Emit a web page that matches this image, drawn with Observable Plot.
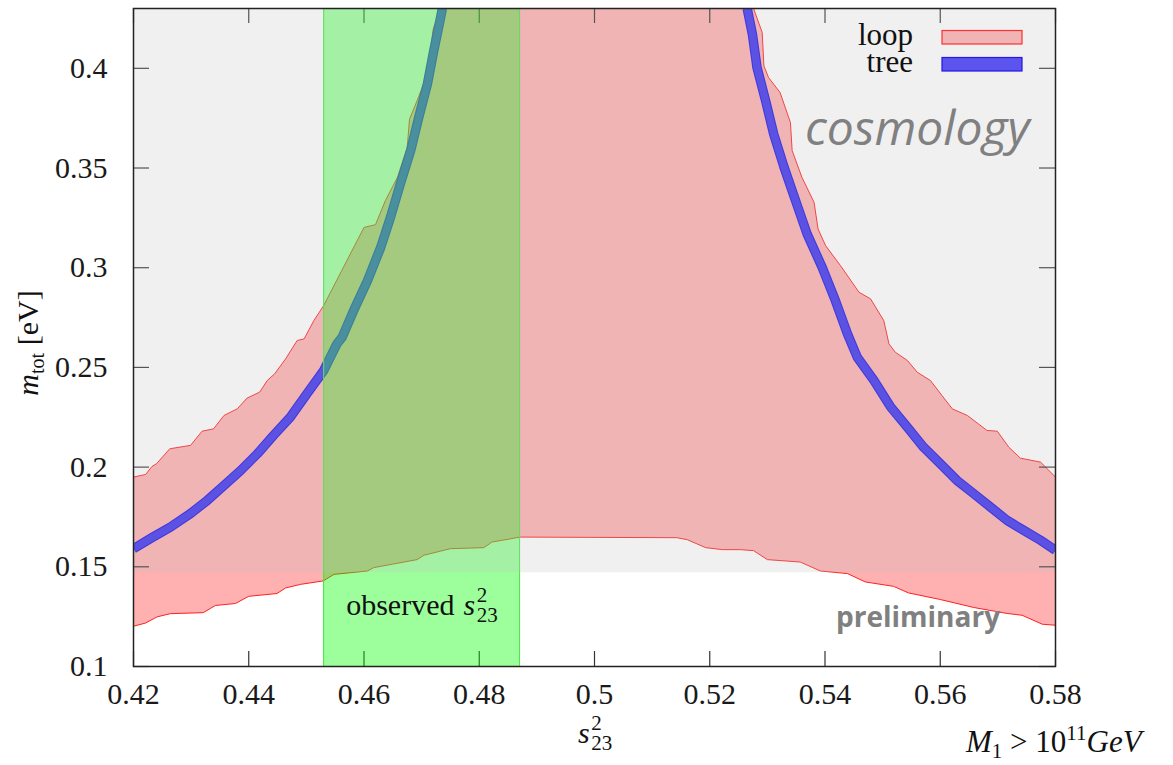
<!DOCTYPE html>
<html>
<head>
<meta charset="utf-8">
<script src="https://cdn.jsdelivr.net/npm/d3@7"></script>
<script src="https://cdn.jsdelivr.net/npm/@observablehq/plot@0.6"></script>
<style>
  html, body { margin: 0; padding: 0; background: white; }
  #chart svg { display: block; }
</style>
</head>
<body>
<div id="chart"></div>
<script>
// ---------------- data ----------------
const xTicks = [0.42, 0.44, 0.46, 0.48, 0.50, 0.52, 0.54, 0.56, 0.58];
const yTicks = [0.10, 0.15, 0.20, 0.25, 0.30, 0.35, 0.40];
const xDomain = [0.42, 0.58];
const yDomain = [0.10, 0.43];

// observed s23^2 band and cosmology bound
const observedS23 = [0.453, 0.487];
const cosmologyBound = 0.147;

// loop region: lower boundary
const loopLowerX = [0.42,0.4221,0.4241,0.4264,0.4321,0.4342,0.4377,0.4400,0.4449,0.4464,0.4490,0.4529,0.4548,0.4606,0.4617,0.4692,0.4704,0.4750,0.4808,0.4822,0.4871,0.5143,0.5161,0.5193,0.5222,0.5253,0.5276,0.5300,0.5357,0.5392,0.5439,0.5470,0.5519,0.5545,0.5600,0.5658,0.5716,0.5742,0.5777,0.58];
const loopLowerY = [0.1202,0.1218,0.1249,0.1265,0.1270,0.1306,0.1316,0.1352,0.1366,0.1394,0.1412,0.1429,0.1462,0.1479,0.1496,0.1536,0.1558,0.1591,0.1596,0.1624,0.1649,0.1646,0.1636,0.1596,0.1586,0.1586,0.1581,0.1536,0.1524,0.1479,0.1466,0.1424,0.1402,0.1369,0.1336,0.1296,0.1266,0.1257,0.1212,0.1207];
// loop region: upper boundary, left branch
const loopUpperLeftX = [0.42,0.4221,0.4232,0.4240,0.4263,0.4299,0.4319,0.4339,0.4357,0.4380,0.4397,0.4419,0.4432,0.4445,0.4464,0.4484,0.4496,0.4513,0.4530,0.4600,0.4620,0.4637,0.4658,0.4675,0.4679,0.4692,0.4710,0.4720,0.4727,0.4733];
const loopUpperLeftY = [0.195,0.1963,0.2003,0.2017,0.2092,0.2109,0.218,0.2192,0.2259,0.2292,0.2346,0.2376,0.2434,0.2468,0.2543,0.2635,0.2643,0.2735,0.281,0.3202,0.3216,0.3336,0.3453,0.3603,0.3745,0.3837,0.397,0.4196,0.4255,0.43];
// loop region: upper boundary, right branch
const loopUpperRightX = [0.5276,0.5291,0.5294,0.5302,0.5322,0.5340,0.5343,0.5360,0.5381,0.5388,0.5401,0.5427,0.5459,0.5479,0.5502,0.5511,0.5522,0.5543,0.5560,0.5583,0.5603,0.5621,0.5647,0.5681,0.5699,0.5719,0.5739,0.5774,0.58];
const loopUpperRightY = [0.43,0.418,0.4012,0.3954,0.3879,0.3728,0.3587,0.3453,0.3328,0.3194,0.3111,0.301,0.2877,0.2844,0.2735,0.2618,0.2576,0.2535,0.2476,0.2434,0.2359,0.2292,0.2259,0.2184,0.218,0.21,0.2045,0.2025,0.195];

// tree band (centre line), left and right branches
const treeLeftX = [0.42,0.4232,0.4264,0.4299,0.4328,0.4357,0.4386,0.4415,0.4443,0.4472,0.4501,0.4530,0.4553,0.4562,0.4582,0.4606,0.4629,0.4646,0.4663,0.4681,0.4695,0.4710,0.4721,0.4730,0.4736];
const treeLeftY = [0.1591,0.1646,0.1699,0.1767,0.1833,0.1908,0.1983,0.2067,0.2159,0.225,0.2368,0.2484,0.2618,0.2651,0.2785,0.2935,0.3102,0.3253,0.342,0.3587,0.3754,0.3921,0.4088,0.4213,0.43];
const treeRightX = [0.5265,0.5274,0.5282,0.5297,0.5311,0.5329,0.5349,0.5369,0.5395,0.5418,0.5439,0.5456,0.5485,0.5514,0.5543,0.5571,0.5600,0.5629,0.5658,0.5687,0.5716,0.5745,0.5774,0.58];
const treeRightY = [0.43,0.4171,0.4004,0.3837,0.367,0.3503,0.3336,0.3169,0.3002,0.2835,0.2668,0.2551,0.2434,0.2301,0.22,0.21,0.2017,0.1933,0.1867,0.18,0.1733,0.1683,0.1633,0.1583];

// ---------------- tables ----------------
const zip = (xs, ys) => xs.map((x, i) => ({x, y: ys[i]}));
const lower = zip(loopLowerX, loopLowerY);
const upperLeft = zip(loopUpperLeftX, loopUpperLeftY);
const upperRight = zip(loopUpperRightX, loopUpperRightY);
const loopPolygon = [...lower, ...upperRight.slice().reverse(), ...upperLeft.slice().reverse()];
const treeLeft = zip(treeLeftX, treeLeftY);
const treeRight = zip(treeRightX, treeRightY);

const W = 1173, H = 765, mL = 133, mR = 118, mT = 8, mB = 99;
const innerW = W - mL - mR, innerH = H - mT - mB;
const fmt = d => d.toFixed(2).replace(/0+$/, "").replace(/\.$/, "");
const serif = "'Liberation Serif', 'Times New Roman', serif";
const sans = "'Open Sans', 'DejaVu Sans', sans-serif";

const chart = Plot.plot({
  width: W, height: H,
  marginLeft: mL, marginRight: mR, marginTop: mT, marginBottom: mB,
  x: {domain: xDomain},
  y: {domain: yDomain},
  style: `font-family: ${serif}; font-size: 30px; background: white; color: #1a1a1a;`,
  marks: [
    // loop region fill
    Plot.line(loopPolygon, {x: "x", y: "y", fill: "rgb(255,176,176)", stroke: "none", clip: true}),
    // loop boundaries
    Plot.line(lower, {x: "x", y: "y", stroke: "#ff2020", strokeWidth: 1, clip: true}),
    Plot.line(upperLeft, {x: "x", y: "y", stroke: "#ff2020", strokeWidth: 1, clip: true}),
    Plot.line(upperRight, {x: "x", y: "y", stroke: "#ff2020", strokeWidth: 1, clip: true}),
    // tree band
    Plot.line(treeLeft, {x: "x", y: "y", stroke: "#1a10e6", strokeWidth: 9.5, clip: true, strokeLinecap: "butt"}),
    Plot.line(treeLeft, {x: "x", y: "y", stroke: "#3c30f0", strokeWidth: 7.3, clip: true, strokeLinecap: "butt"}),
    Plot.line(treeRight, {x: "x", y: "y", stroke: "#1a10e6", strokeWidth: 9.5, clip: true, strokeLinecap: "butt"}),
    Plot.line(treeRight, {x: "x", y: "y", stroke: "#3c30f0", strokeWidth: 7.3, clip: true, strokeLinecap: "butt"}),
    // inward ticks on all four sides
    Plot.tickX(xTicks, {x: d => d, insetTop: innerH - 15, stroke: "#333", strokeWidth: 1.2}),
    Plot.tickX(xTicks, {x: d => d, insetBottom: innerH - 15, stroke: "#333", strokeWidth: 1.2}),
    Plot.tickY(yTicks, {y: d => d, insetRight: innerW - 16, stroke: "#333", strokeWidth: 1.2}),
    Plot.tickY(yTicks, {y: d => d, insetLeft: innerW - 16, stroke: "#333", strokeWidth: 1.2}),
    // observed s23 band
    Plot.rect([observedS23], {x1: d => d[0], x2: d => d[1], fill: "#00ff00", fillOpacity: 0.39}),
    Plot.ruleX(observedS23, {x: d => d, stroke: "#3ee83e", strokeWidth: 1}),
    // cosmology excluded region (grey overlay)
    Plot.rect([cosmologyBound], {y1: d => d, y2: () => yDomain[1], fill: "rgb(192,192,192)", fillOpacity: 0.24}),
    // frame and tick labels
    Plot.frame({stroke: "#222", strokeWidth: 1.5}),
    Plot.axisX(xTicks, {anchor: "bottom", tickSize: 0, tickPadding: 16, tickFormat: fmt, label: null,
      fontFamily: serif, fontSize: 30, fill: "#1a1a1a"}),
    Plot.axisY(yTicks, {anchor: "left", tickSize: 0, tickPadding: 26, tickFormat: fmt, label: null,
      fontFamily: serif, fontSize: 30, fill: "#1a1a1a"})
  ]
});

document.getElementById("chart").appendChild(chart);
const svg = d3.select(chart);
const xs = chart.scale("x"), ys = chart.scale("y");
const g = svg.append("g").attr("text-anchor", "start").attr("font-family", serif).attr("fill", "#111");

// s^2_{23} helper: italic s with stacked super/subscripts, baseline at (x, y)
function s23(x, y, size) {
  const s = g.append("text").attr("x", x).attr("y", y).attr("text-anchor", "start")
    .attr("font-size", size).attr("font-style", "italic").text("s");
  const w = s.node().getComputedTextLength() + 1.5;
  g.append("text").attr("x", x + w).attr("y", y - size * 0.42).attr("text-anchor", "start")
    .attr("font-size", size * 0.7).text("2");
  g.append("text").attr("x", x + w).attr("y", y + size * 0.24).attr("text-anchor", "start")
    .attr("font-size", size * 0.7).text("23");
}

// observed label
const obsX = xs.apply(observedS23[0]) + 23;
const obs = g.append("text").attr("x", obsX).attr("y", 615).attr("text-anchor", "start")
  .attr("font-size", 30).text("observed");
s23(obsX + obs.node().getComputedTextLength() + 9, 615, 30);

// x-axis label
s23(578, 743, 30);

// y-axis label
const yl = g.append("text")
  .attr("transform", `translate(38,343) rotate(-90)`)
  .attr("text-anchor", "middle").attr("font-size", 30);
yl.append("tspan").attr("font-style", "italic").text("m");
yl.append("tspan").attr("font-size", 20).attr("dy", 6).text("tot");
yl.append("tspan").attr("dy", -6).text(" [eV]");

// legend
const leg = [
  {label: "loop", y: 45, fill: "#f0b4b4", stroke: "#ff3030"},
  {label: "tree", y: 72, fill: "#5c54ee", stroke: "#2418e2"}
];
leg.forEach(d => {
  g.append("text").attr("x", 913).attr("y", d.y).attr("text-anchor", "end")
    .attr("font-size", 31).text(d.label);
  g.append("rect").attr("x", 942).attr("y", d.y - 14.5).attr("width", 80).attr("height", 13.5)
    .attr("fill", d.fill).attr("stroke", d.stroke).attr("stroke-width", 1.2);
});

// annotations
g.append("text").attr("x", 805).attr("y", 145).attr("text-anchor", "start")
  .attr("font-family", sans).attr("font-style", "italic")
  .attr("font-size", 48).attr("fill", "#808080").text("cosmology");
g.append("text").attr("x", 836).attr("y", 627).attr("text-anchor", "start")
  .attr("font-family", sans).attr("font-weight", "bold")
  .attr("font-size", 28).attr("fill", "#808080").text("preliminary");

// M1 condition
const m1 = g.append("text").attr("x", 966).attr("y", 752).attr("text-anchor", "start")
  .attr("font-size", 31);
m1.append("tspan").attr("font-style", "italic").text("M");
m1.append("tspan").attr("font-size", 21).attr("dy", 6).text("1");
m1.append("tspan").attr("dy", -6).text(" > 10");
m1.append("tspan").attr("font-size", 21).attr("dy", -12).text("11");
m1.append("tspan").attr("font-style", "italic").attr("dy", 12).text("GeV");
</script>
</body>
</html>
